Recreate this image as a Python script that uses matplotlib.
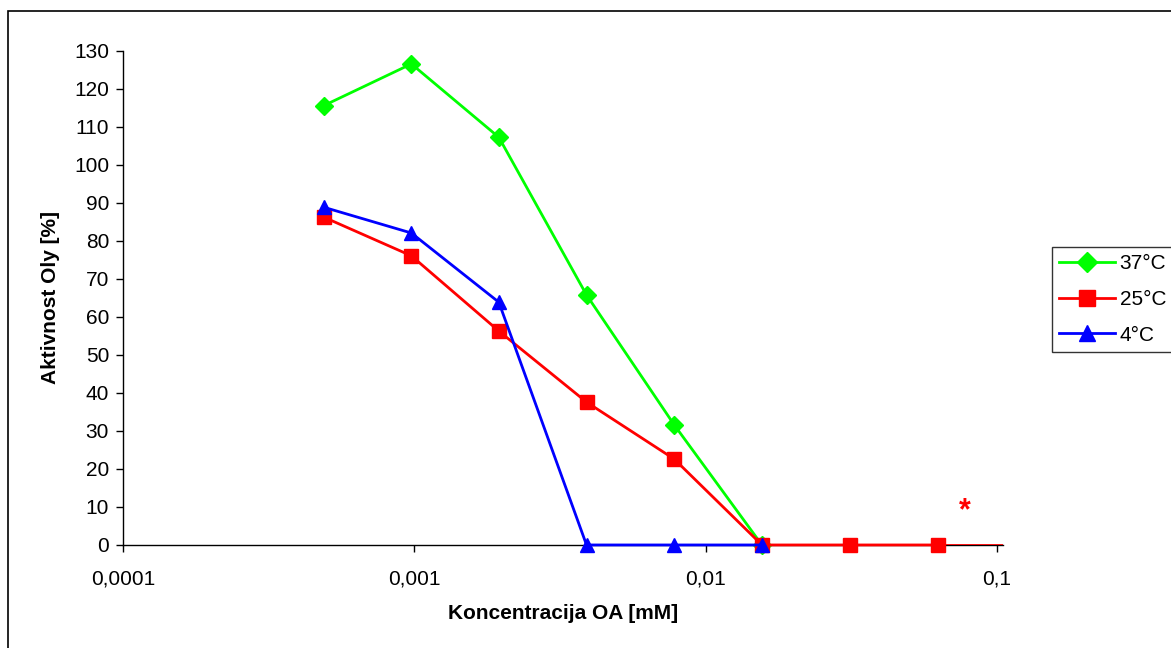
import matplotlib
matplotlib.use("Agg")
import matplotlib.pyplot as plt
from matplotlib.ticker import FixedLocator, FixedFormatter, NullLocator
from matplotlib.patches import Rectangle

plt.rcParams['font.family'] = ['Liberation Sans', 'DejaVu Sans']

# ==================== DATA ====================
conc = [0.000488, 0.000977, 0.00195, 0.0039, 0.0078, 0.0156, 0.03125, 0.0625, 0.125]

act_37 = [115.6, 126.6, 107.3, 65.8, 31.6, 0]
act_25 = [86.3, 76.1, 56.3, 37.6, 22.6, 0, 0, 0, 0]
act_4 = [88.9, 82.1, 63.9, 0, 0, 0]

series_labels = ['37°C', '25°C', '4°C']
x_ticks = [0.0001, 0.001, 0.01, 0.1]
x_tick_labels = ['0,0001', '0,001', '0,01', '0,1']
y_ticks = list(range(0, 131, 10))
# ==============================================

FS = 15

fig = plt.figure(figsize=(11.71, 6.48), dpi=100)
ax = fig.add_axes([0.105, 0.159, 0.7515, 0.7623])

ax.plot(conc[:len(act_37)], act_37, color='#00FF00', lw=2, marker='D', ms=9,
        label=series_labels[0], zorder=3, clip_on=False)

# red series: last point lies past the axis end, so its line is clipped
n_in = len(act_25) - 1
ax.plot(conc[n_in - 1:], act_25[n_in - 1:], color='#FF0000', lw=2, zorder=4)
ax.plot(conc[:n_in], act_25[:n_in], color='#FF0000', lw=2, marker='s', ms=10,
        label=series_labels[1], zorder=4, clip_on=False)

ax.plot(conc[:len(act_4)], act_4, color='#0000FF', lw=2, marker='^', ms=10,
        label=series_labels[2], zorder=5, clip_on=False)

# asterisk next to the last red point
ax.text(0.0773, 8.8, '*', color='#FF0000', fontsize=22, fontweight='bold',
        ha='center', va='center')

ax.set_xscale('log')
ax.set_xlim(1e-4, 0.1048)
ax.set_ylim(0, 130)

ax.xaxis.set_major_locator(FixedLocator(x_ticks))
ax.xaxis.set_major_formatter(FixedFormatter(x_tick_labels))
ax.xaxis.set_minor_locator(NullLocator())
ax.set_yticks(y_ticks)

for s in ['top', 'right']:
    ax.spines[s].set_visible(False)
for s in ['left', 'bottom']:
    ax.spines[s].set_linewidth(1)
    ax.spines[s].set_color('black')
    ax.spines[s].set_zorder(2)

ax.tick_params(axis='both', direction='out', length=5, width=1, labelsize=FS)
ax.tick_params(axis='x', pad=13)
ax.tick_params(axis='y', pad=5)

ax.set_xlabel('Koncentracija OA [mM]', fontsize=FS, fontweight='bold', labelpad=11)
ax.set_ylabel('Aktivnost Oly [%]', fontsize=FS, fontweight='bold', labelpad=10)

leg = ax.legend(loc='upper left', bbox_to_anchor=(1052 / 1171, 1 - 247 / 648),
                bbox_transform=fig.transFigure, fontsize=FS, frameon=True,
                fancybox=False, edgecolor='black', handlelength=2.65,
                handletextpad=0.25, labelspacing=0.8, borderpad=0.35,
                borderaxespad=0, markerscale=1.1)
leg.get_frame().set_linewidth(1)

# outer chart border
fig.patches.append(Rectangle((8 / 1171, -0.01), 1.02, 1 - 11 / 648 + 0.01,
                             transform=fig.transFigure, fill=False,
                             edgecolor='black', lw=1.2))

fig.savefig('out.png', dpi=100)
